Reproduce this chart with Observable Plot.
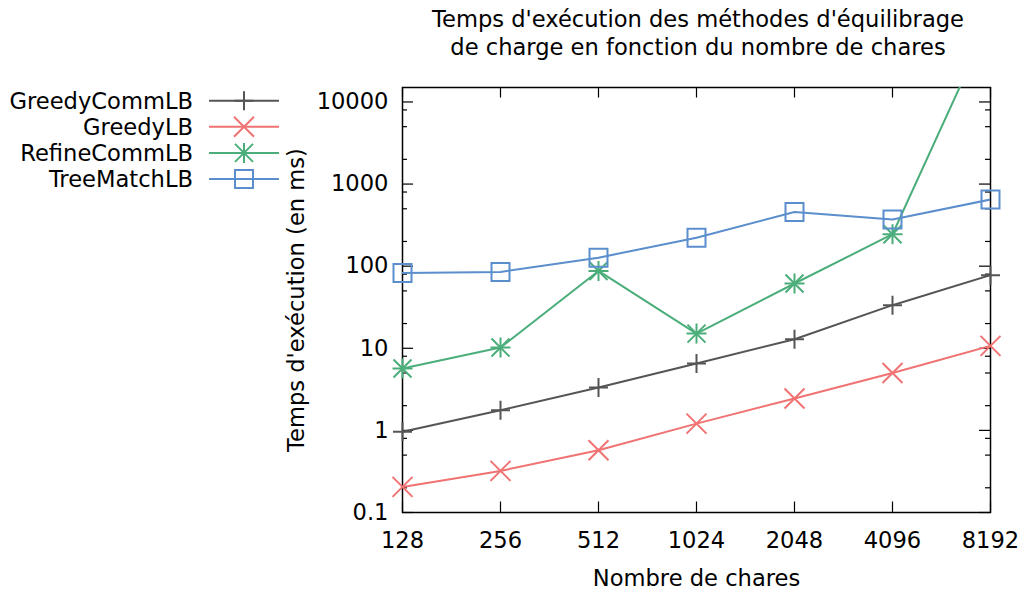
<!DOCTYPE html>
<html><head><meta charset="utf-8">
<script src="https://cdn.jsdelivr.net/npm/d3@7"></script>
<script src="https://cdn.jsdelivr.net/npm/@observablehq/plot@0.6"></script>
<style>
body{margin:0;background:#fff;font-family:"DejaVu Sans",sans-serif;}
#wrap{position:relative;width:1020px;height:591px;overflow:hidden;}
#title{height:62px;width:1020px;position:relative;}
#title div{position:absolute;left:398px;width:600px;text-align:center;font-size:22.6px;line-height:28px;top:5px;color:#000;white-space:nowrap;}
#chart svg{display:block;}
#legend{position:absolute;left:0;top:0;}
</style></head><body>
<div id="wrap">
  <div id="title"><div>Temps d'exécution des méthodes d'équilibrage<br>de charge en fonction du nombre de chares</div></div>
  <div id="chart"></div>
  <svg id="legend" width="300" height="200"></svg>
</div>
<script>
// ---- data ----
const chares = [128, 256, 512, 1024, 2048, 4096, 8192];
const names = ["GreedyCommLB", "GreedyLB", "RefineCommLB", "TreeMatchLB"];
const greedyCommLB = [0.96, 1.76, 3.33, 6.53, 12.9, 33.5, 77.7];
const greedyLB = [0.205, 0.321, 0.574, 1.21, 2.45, 5.01, 10.7];
const refineCommLB = [5.67, 10.2, 87.5, 15.1, 61.5, 245, 100000];
const treeMatchLB = [82.8, 85.2, 127, 222, 458, 370, 648];
const colors = ["#555555", "#f07272", "#4bae7a", "#5b8ecc"];
const yMajor = [0.1, 1, 10, 100, 1000, 10000];
const yMinor = [0.2, 0.5, 0.8, 2, 5, 8, 20, 50, 80, 200, 500, 800, 2000, 5000, 8000];
const yTop = 15000;
const FS = 22.6;

// ---- symbols (size = PI*r*r, r = half extent) ----
const rad = s => Math.sqrt(s / Math.PI);
const symPlus = {draw(c, s) {const r = rad(s); c.moveTo(-r, 0); c.lineTo(r, 0); c.moveTo(0, -r); c.lineTo(0, r);}};
const symTimes = {draw(c, s) {const r = rad(s); c.moveTo(-r, -r); c.lineTo(r, r); c.moveTo(-r, r); c.lineTo(r, -r);}};
const symSquare = {draw(c, s) {const r = rad(s); c.rect(-r, -r, 2 * r, 2 * r);}};
const symbolsFor = {
  GreedyCommLB: [[symPlus, 9.5]],
  GreedyLB: [[symTimes, 10]],
  RefineCommLB: [[symPlus, 10], [symTimes, 9]],
  TreeMatchLB: [[symSquare, 9]]
};

const seriesValues = [greedyCommLB, greedyLB, refineCommLB, treeMatchLB];
const rows = names.flatMap((name, k) => seriesValues[k].map((t, i) => ({name, n: chares[i], t})));

const W = 1020, H = 529, mT = 25, mB = 79, mL = 402, mR = 30;
const pw = W - mL - mR, ph = H - mT - mB;

const marks = [
  Plot.frame({stroke: "black", strokeWidth: 1.5}),
  Plot.ruleX(chares, {x: d => d, insetTop: ph - 10.5, stroke: "black", strokeWidth: 1.2}),
  Plot.ruleX(chares, {x: d => d, insetBottom: ph - 10.5, stroke: "black", strokeWidth: 1.2}),
  Plot.ruleY(yMajor, {y: d => d, insetRight: pw - 11, stroke: "black", strokeWidth: 1.2}),
  Plot.ruleY(yMajor, {y: d => d, insetLeft: pw - 11, stroke: "black", strokeWidth: 1.2}),
  Plot.ruleY(yMinor, {y: d => d, insetRight: pw - 5, stroke: "black", strokeWidth: 1.2}),
  Plot.ruleY(yMinor, {y: d => d, insetLeft: pw - 5, stroke: "black", strokeWidth: 1.2}),
  Plot.text(chares, {x: d => d, text: d => String(d), frameAnchor: "bottom", dy: 35, fontSize: FS, fill: "black"}),
  Plot.text(yMajor, {y: d => d, text: d => String(d), frameAnchor: "left", dx: -14, textAnchor: "end", fontSize: FS, fill: "black"}),
  Plot.text(["Nombre de chares"], {text: d => d, frameAnchor: "bottom", dy: 73, fontSize: FS, fill: "black"}),
  Plot.text(["Temps d'exécution (en ms)"], {text: d => d, frameAnchor: "left", textAnchor: "middle", dx: -106, rotate: -90, fontSize: FS, fill: "black"})
];
names.forEach(name => {
  const data = rows.filter(d => d.name === name);
  marks.push(Plot.line(data, {x: "n", y: "t", stroke: "name", strokeWidth: 2, clip: true}));
  symbolsFor[name].forEach(([sym, r]) => {
    marks.push(Plot.dot(data.filter(d => d.t <= yTop), {x: "n", y: "t", symbol: sym, r, stroke: "name", fill: "none", strokeWidth: 2}));
  });
});

const chart = Plot.plot({
  width: W, height: H, marginTop: mT, marginBottom: mB, marginLeft: mL, marginRight: mR,
  style: {fontFamily: '"DejaVu Sans", sans-serif', fontSize: FS + "px", background: "white", color: "black"},
  x: {type: "log", base: 2, domain: [128, 8192], axis: null},
  y: {type: "log", domain: [0.1, yTop], axis: null},
  color: {domain: names, range: colors},
  marks
});
document.getElementById("chart").appendChild(chart);

// ---- legend ----
const leg = d3.select("#legend");
names.forEach((name, i) => {
  const y = 100.7 + i * 26.1;
  const g = leg.append("g").attr("transform", `translate(0,${y})`);
  g.append("text").attr("x", 193).attr("y", 0).attr("dy", "0.35em").attr("text-anchor", "end")
    .attr("font-size", FS).attr("font-family", '"DejaVu Sans", sans-serif').attr("fill", "black").text(name);
  g.append("line").attr("x1", 209).attr("x2", 279).attr("y1", 0).attr("y2", 0).attr("stroke", colors[i]).attr("stroke-width", 2);
  symbolsFor[name].forEach(([sym, r]) => {
    g.append("path").attr("transform", "translate(244,0)").attr("d", d3.symbol(sym, Math.PI * r * r)())
      .attr("fill", "none").attr("stroke", colors[i]).attr("stroke-width", 2);
  });
});
</script>
</body></html>
